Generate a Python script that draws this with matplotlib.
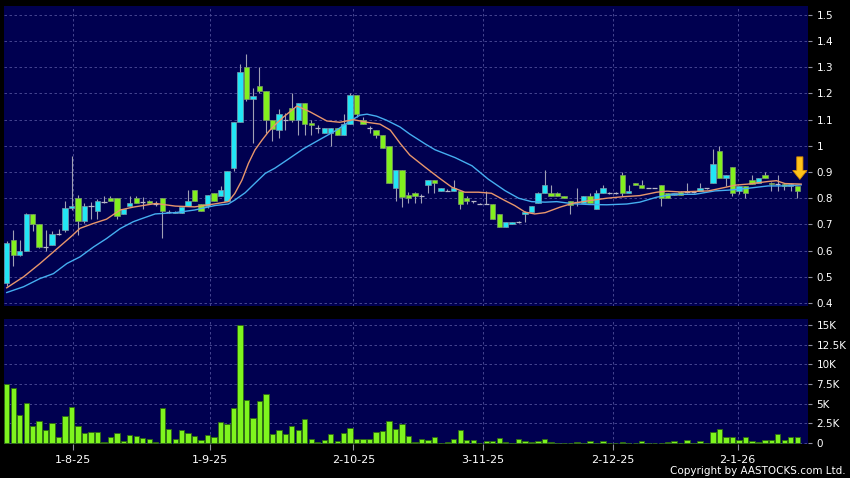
import numpy as np
import matplotlib.pyplot as plt
from matplotlib.patches import FancyArrow

# ── Data (price in HKD, volume in thousands) ─────────────────────────────────
opens = [0.475, 0.642, 0.583, 0.600, 0.741, 0.700, 0.615, 0.621, 0.663, 0.679,
         0.762, 0.800, 0.712, 0.770, 0.750, 0.785, 0.800, 0.800, 0.741, 0.772,
         0.800, 0.787, 0.790, 0.778, 0.800, 0.748, 0.745, 0.742, 0.770, 0.830,
         0.778, 0.771, 0.821, 0.810, 0.790, 0.915, 1.090, 1.300, 1.180, 1.230,
         1.210, 1.100, 1.062, 1.100, 1.143, 1.100, 1.162, 1.088, 1.067, 1.050,
         1.050, 1.068, 1.040, 1.083, 1.194, 1.100, 1.070, 1.062, 1.040, 1.000,
         0.840, 0.909, 0.813, 0.820, 0.809, 0.850, 0.870, 0.829, 0.829, 0.829,
         0.827, 0.800, 0.789, 0.778, 0.778, 0.778, 0.740, 0.692, 0.700, 0.709,
         0.740, 0.747, 0.781, 0.821, 0.820, 0.820, 0.809, 0.790, 0.785, 0.781,
         0.809, 0.759, 0.820, 0.820, 0.820, 0.890, 0.820, 0.858, 0.851, 0.839,
         0.839, 0.851, 0.819, 0.811, 0.824, 0.822, 0.822, 0.828, 0.838, 0.858,
         0.980, 0.877, 0.918, 0.828, 0.847, 0.869, 0.860, 0.888, 0.860, 0.854,
         0.856, 0.845, 0.847]
highs = [0.635, 0.680, 0.640, 0.745, 0.741, 0.700, 0.679, 0.675, 0.683, 0.790,
         0.960, 0.811, 0.780, 0.786, 0.798, 0.807, 0.810, 0.800, 0.760, 0.810,
         0.810, 0.805, 0.795, 0.790, 0.800, 0.755, 0.752, 0.767, 0.830, 0.830,
         0.778, 0.811, 0.821, 0.845, 0.904, 1.090, 1.311, 1.350, 1.220, 1.300,
         1.210, 1.100, 1.140, 1.125, 1.200, 1.165, 1.162, 1.100, 1.080, 1.070,
         1.070, 1.068, 1.123, 1.200, 1.194, 1.110, 1.075, 1.062, 1.040, 1.000,
         0.909, 0.909, 0.823, 0.825, 0.815, 0.870, 0.870, 0.840, 0.835, 0.871,
         0.827, 0.810, 0.790, 0.780, 0.829, 0.778, 0.740, 0.709, 0.709, 0.712,
         0.750, 0.772, 0.823, 0.909, 0.852, 0.822, 0.809, 0.790, 0.840, 0.809,
         0.820, 0.830, 0.852, 0.822, 0.822, 0.900, 0.852, 0.860, 0.871, 0.840,
         0.840, 0.851, 0.819, 0.821, 0.826, 0.858, 0.824, 0.858, 0.840, 0.987,
         1.000, 0.888, 0.918, 0.847, 0.847, 0.888, 0.877, 0.900, 0.862, 0.888,
         0.858, 0.858, 0.847]
lows = [0.465, 0.540, 0.580, 0.600, 0.675, 0.610, 0.600, 0.621, 0.660, 0.670,
        0.755, 0.660, 0.705, 0.722, 0.722, 0.780, 0.790, 0.720, 0.740, 0.772,
        0.780, 0.760, 0.780, 0.770, 0.650, 0.745, 0.742, 0.742, 0.770, 0.790,
        0.750, 0.761, 0.790, 0.810, 0.790, 0.905, 1.090, 1.170, 1.010, 1.200,
        1.050, 1.020, 1.030, 1.060, 1.090, 1.040, 1.040, 1.040, 1.050, 1.050,
        1.000, 1.040, 1.040, 1.083, 1.110, 1.083, 1.050, 1.030, 0.990, 0.860,
        0.790, 0.768, 0.780, 0.780, 0.780, 0.820, 0.820, 0.829, 0.829, 0.829,
        0.760, 0.778, 0.780, 0.778, 0.778, 0.721, 0.692, 0.692, 0.700, 0.705,
        0.709, 0.747, 0.781, 0.821, 0.809, 0.809, 0.800, 0.740, 0.772, 0.781,
        0.781, 0.759, 0.820, 0.818, 0.818, 0.810, 0.820, 0.851, 0.839, 0.838,
        0.838, 0.772, 0.800, 0.811, 0.812, 0.820, 0.820, 0.828, 0.836, 0.858,
        0.877, 0.847, 0.809, 0.818, 0.800, 0.854, 0.860, 0.877, 0.828, 0.828,
        0.830, 0.828, 0.800]
closes = [0.630, 0.582, 0.598, 0.741, 0.700, 0.612, 0.615, 0.663, 0.663, 0.763,
          0.772, 0.712, 0.770, 0.770, 0.790, 0.785, 0.790, 0.731, 0.759, 0.781,
          0.780, 0.787, 0.780, 0.778, 0.750, 0.748, 0.748, 0.767, 0.790, 0.790,
          0.750, 0.811, 0.790, 0.830, 0.904, 1.090, 1.281, 1.180, 1.190, 1.210,
          1.100, 1.066, 1.121, 1.100, 1.100, 1.162, 1.083, 1.081, 1.067, 1.068,
          1.068, 1.040, 1.085, 1.194, 1.121, 1.083, 1.070, 1.040, 0.990, 0.860,
          0.909, 0.804, 0.800, 0.809, 0.809, 0.870, 0.858, 0.839, 0.829, 0.839,
          0.778, 0.789, 0.789, 0.778, 0.778, 0.721, 0.692, 0.709, 0.709, 0.709,
          0.749, 0.772, 0.821, 0.852, 0.809, 0.809, 0.800, 0.775, 0.785, 0.809,
          0.781, 0.820, 0.839, 0.820, 0.820, 0.820, 0.828, 0.851, 0.839, 0.839,
          0.839, 0.800, 0.800, 0.821, 0.812, 0.822, 0.822, 0.838, 0.838, 0.931,
          0.877, 0.888, 0.820, 0.847, 0.820, 0.854, 0.877, 0.877, 0.854, 0.854,
          0.845, 0.856, 0.828]
volume_k = [7.56, 6.93, 3.55, 5.11, 2.11, 2.83, 1.61, 2.49, 0.80, 3.46,
            4.52, 2.15, 1.23, 1.39, 1.39, 0.08, 0.80, 1.23, 0.30, 1.01,
            0.85, 0.63, 0.55, 0.17, 4.48, 1.82, 0.55, 1.69, 1.23, 0.93,
            0.38, 1.06, 0.72, 2.70, 2.41, 4.39, 14.96, 5.49, 3.21, 5.37,
            6.21, 1.10, 1.65, 1.18, 2.15, 1.61, 3.04, 0.51, 0.17, 0.34,
            1.10, 0.21, 1.31, 1.90, 0.51, 0.51, 0.55, 1.44, 1.56, 2.79,
            1.82, 2.45, 0.93, 0.13, 0.51, 0.38, 0.72, 0.03, 0.13, 0.51,
            1.61, 0.34, 0.34, 0.05, 0.21, 0.21, 0.68, 0.08, 0.05, 0.55,
            0.30, 0.17, 0.30, 0.46, 0.13, 0.04, 0.04, 0.05, 0.08, 0.03,
            0.21, 0.04, 0.21, 0.02, 0.02, 0.08, 0.03, 0.04, 0.25, 0.02,
            0.02, 0.05, 0.08, 0.21, 0.04, 0.42, 0.02, 0.21, 0.02, 1.39,
            1.77, 0.80, 0.72, 0.34, 0.72, 0.30, 0.08, 0.38, 0.34, 1.14,
            0.42, 0.80, 0.80]

# moving averages, sampled along the bars (bar index, price)
ma_fast_idx = [0, 2.6, 5.1, 7.2, 9.3, 10, 11.3, 13.4, 15.4, 17.5, 19.5, 21, 23, 26,
               29, 32, 34.2, 35.2, 36.3, 37.3, 38.3, 39.4, 40.4, 41.4, 42.7, 44.8,
               46.8, 49.4, 51.4, 53.5, 55.6, 57.6, 59.2, 60.7, 62.2, 64.6, 66.6,
               68.7, 70.7, 72.8, 74.8, 76.9, 78.4, 80, 81.5, 83.1, 85.4, 87.4, 90,
               92.6, 95.2, 97.7, 100.3, 101.9, 103.9, 108.3, 110.8, 112.4, 114.4,
               117.5, 118.8, 120.1, 122.6]
ma_fast_val = [0.458, 0.500, 0.550, 0.595, 0.640, 0.655, 0.685, 0.704, 0.720, 0.755,
               0.766, 0.772, 0.780, 0.770, 0.767, 0.778, 0.787, 0.818, 0.869, 0.933,
               0.984, 1.022, 1.054, 1.080, 1.110, 1.152, 1.130, 1.095, 1.090, 1.100,
               1.090, 1.083, 1.060, 1.010, 0.965, 0.918, 0.880, 0.842, 0.823, 0.823,
               0.819, 0.791, 0.772, 0.747, 0.740, 0.745, 0.766, 0.781, 0.791, 0.800,
               0.806, 0.810, 0.823, 0.827, 0.824, 0.828, 0.841, 0.850, 0.854, 0.864,
               0.867, 0.856, 0.854]
ma_slow_idx = [0, 2.6, 5.1, 7.2, 9.3, 11.3, 13.4, 15.4, 17.5, 19.5, 20.6, 22.9, 26,
               29, 32.1, 34.2, 35.2, 36.8, 38.3, 39.9, 41.4, 43.2, 45.8, 48.3, 50.9,
               53, 54.5, 55.6, 57.1, 58.6, 60.7, 62.2, 64.6, 66.1, 69.2, 71.8, 74.3,
               76.9, 79, 81, 83.1, 84.9, 87.4, 90, 92.6, 95.7, 97.7, 100.3, 102.9,
               106.2, 109.3, 111.4, 114.4, 117.5, 120.1, 122.6]
ma_slow_val = [0.440, 0.462, 0.493, 0.512, 0.551, 0.576, 0.614, 0.646, 0.684, 0.710,
               0.720, 0.740, 0.745, 0.755, 0.772, 0.778, 0.793, 0.821, 0.857, 0.895,
               0.915, 0.945, 0.989, 1.024, 1.060, 1.095, 1.117, 1.121, 1.113, 1.098,
               1.072, 1.045, 1.007, 0.985, 0.955, 0.924, 0.873, 0.829, 0.800, 0.787,
               0.785, 0.787, 0.779, 0.776, 0.775, 0.778, 0.785, 0.804, 0.815, 0.815,
               0.828, 0.831, 0.838, 0.847, 0.847, 0.851]

date_pos = [10.2, 31.3, 53.5, 73.5, 93.6, 112.8]
date_labels = ["1-8-25", "1-9-25", "2-10-25", "3-11-25", "2-12-25", "2-1-26"]
price_ticks = [0.4, 0.5, 0.6, 0.7, 0.8, 0.9, 1.0, 1.1, 1.2, 1.3, 1.4, 1.5]
vol_ticks = [0, 2.5, 5, 7.5, 10, 12.5, 15]
vol_labels = ["0", "2.5K", "5K", "7.5K", "10K", "12.5K", "15K"]

# ── Styling ───────────────────────────────────────────────────────────────────
BG = "#000050"
GRID = "#50509a"
CYAN = "#22e6f5"
GREEN = "#82f01e"
WICK = "#a0a0b4"

o = np.array(opens); h = np.array(highs); l = np.array(lows); c = np.array(closes)
x = np.arange(len(c))
xlim = (-0.42, 123.66)

fig = plt.figure(figsize=(8.5, 4.78), dpi=100, facecolor="black")
ax = fig.add_axes([4/850, 1 - 306/478, 804/850, 300/478], facecolor=BG)
axv = fig.add_axes([4/850, 1 - 444/478, 804/850, 125/478], facecolor=BG)

# -- candles
ax.vlines(x, l, h, color=WICK, lw=0.8, zorder=2)
doji = np.isclose(o, c)
up = (c > o) & ~doji
dn = (c < o) & ~doji
bw = 0.82
ax.bar(x[up], (c - o)[up], bottom=o[up], width=bw, color=CYAN,
       edgecolor="#7a9aaa", lw=0.5, zorder=3)
ax.bar(x[dn], (o - c)[dn], bottom=c[dn], width=bw, color=GREEN,
       edgecolor="#7a9a6a", lw=0.5, zorder=3)
ax.hlines(c[doji], x[doji] - bw/2, x[doji] + bw/2, color="#b8b8c8", lw=0.9, zorder=3)

# -- moving averages
ax.plot(ma_slow_idx, ma_slow_val, color="#45aef0", lw=1.0, zorder=4)
ax.plot(ma_fast_idx, ma_fast_val, color="#e8966c", lw=1.0, zorder=4)

# -- latest-bar marker
arrow_x = len(c) - 1 + 0.4
ax.add_patch(FancyArrow(arrow_x, 0.958, 0, -0.086, width=0.95, head_width=2.2,
                        head_length=0.034, length_includes_head=True,
                        facecolor="#ffc21a", edgecolor="#d88a00", lw=0.6, zorder=5))

ax.set_xlim(*xlim)
ax.set_ylim(0.3885, 1.534)
ax.set_xticks(date_pos)
ax.set_xticklabels([])
ax.set_yticks(price_ticks)
ax.set_yticklabels([f"{v:g}" for v in price_ticks])

# -- volume
axv.bar(x, volume_k, width=bw, color="#7ef41e", edgecolor="#2e6a12", lw=0.6, zorder=3)
axv.set_xlim(*xlim)
axv.set_ylim(-0.127, 15.76)
axv.set_xticks(date_pos)
axv.set_xticklabels(date_labels)
axv.set_yticks(vol_ticks)
axv.set_yticklabels(vol_labels)

for a in (ax, axv):
    a.grid(True, color=GRID, linestyle=(0, (3, 3)), lw=0.6, zorder=0)
    a.set_axisbelow(True)
    for s in a.spines.values():
        s.set_visible(False)
    a.yaxis.tick_right()
    a.tick_params(axis="y", colors="#9090a0", labelcolor="white", length=3,
                  width=0.8, pad=3, labelsize=7.5)
ax.tick_params(axis="x", length=0)
axv.tick_params(axis="x", colors="#9090a0", labelcolor="white", length=4,
                width=0.8, pad=4, labelsize=8)

fig.text(845.5/850, 1 - 471/478, "Copyright by AASTOCKS.com Ltd.", ha="right",
         va="center", color="white", fontsize=7.5)

fig.savefig("out.png", dpi=100, facecolor="black")
